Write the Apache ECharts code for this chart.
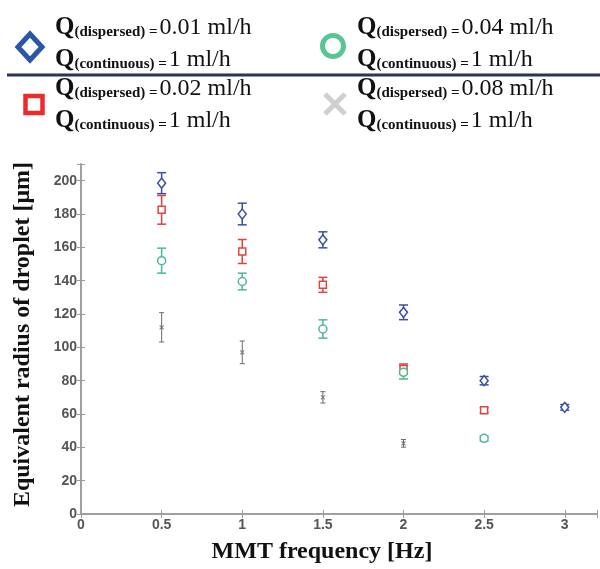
<!DOCTYPE html>
<html><head><meta charset="utf-8">
<script src="https://cdn.jsdelivr.net/npm/echarts@6/dist/echarts.min.js"></script>
<style>html,body{margin:0;padding:0;background:#fff}#c{width:600px;height:569px}</style>
</head><body><div id="c"></div>
<script>
// ---- data ----
const xTicks = [0, 0.5, 1, 1.5, 2, 2.5, 3];
const yTicks = [0, 20, 40, 60, 80, 100, 120, 140, 160, 180, 200];
const blueFreq = [0.5, 1, 1.5, 2, 2.5, 3];
const blueMean = [198.5, 180, 164.5, 121, 80, 64];
const blueErr  = [6.3, 6.5, 4.8, 4.4, 2.5, 1.7];
const redFreq = [0.5, 1, 1.5, 2, 2.5];
const redMean = [182.5, 157.5, 137.5, 87, 62.3];
const redErr  = [8.6, 7.2, 4.5, 3, 1.5];
const greenFreq = [0.5, 1, 1.5, 2, 2.5];
const greenMean = [152, 139.5, 111, 85, 45.4];
const greenErr  = [7.5, 5, 5.5, 4, 1.5];
const grayFreq = [0.5, 1, 1.5, 2];
const grayMean = [112, 97, 70, 42.4];
const grayErr  = [8.8, 6.8, 3.4, 2.3];
const legendRates = ['0.01', '0.04', '0.02', '0.08'];

// ---- style ----
const C = {blue:'#3b4fa3', red:'#e2433f', green:'#4fb98e', gray:'#6b6b6b'};
const L = {blue:'#2a56a8', red:'#ee2a2a', green:'#5bc494', gray:'#cfcfcf'};
const serif = '"Liberation Serif","Times New Roman",serif';
const axisCol = '#9a9a9a';

function pts(f, m){ return f.map((x,i)=>[x, m[i]]); }
function errs(f, m, e){ return f.map((x,i)=>[x, m[i]-e[i], m[i]+e[i]]); }
function errSeries(f, m, e, color, cap, lw){
  return {type:'custom', data: errs(f,m,e), z:2,
    renderItem: function(params, api){
      const x = api.value(0), lo = api.value(1), hi = api.value(2);
      const a = api.coord([x, hi]), b = api.coord([x, lo]);
      const st = {stroke: color, lineWidth: lw, fill:'none'};
      return {type:'group', children:[
        {type:'line', shape:{x1:a[0], y1:a[1], x2:b[0], y2:b[1]}, style: st},
        {type:'line', shape:{x1:a[0]-cap, y1:a[1], x2:a[0]+cap, y2:a[1]}, style: st},
        {type:'line', shape:{x1:b[0]-cap, y1:b[1], x2:b[0]+cap, y2:b[1]}, style: st}
      ]};
    }};
}
function markSeries(f, m, symbol, size, color, lw){
  return {type:'scatter', data: pts(f,m), symbol: symbol, symbolSize: size, z:3,
    itemStyle:{color:'#fff', borderColor: color, borderWidth: lw, opacity:1}};
}

function legendText(x, y, rate){
  return {type:'text', left: x, top: y, z:10,
    style:{
      text: '{q|Q}{s|(dispersed) =}{v|' + rate + ' ml/h}\n{q|Q}{s|(continuous) =}{v|1 ml/h}',
      rich:{
        q:{fontFamily: serif, fontWeight:'bold', fontSize:25, lineHeight:32, verticalAlign:'bottom', fill:'#111'},
        s:{fontFamily: serif, fontWeight:'bold', fontSize:15, lineHeight:14, verticalAlign:'bottom', fill:'#111'},
        v:{fontFamily: serif, fontSize:24, lineHeight:32, verticalAlign:'bottom', fill:'#111', padding:[0,0,0,2]}
      }
    }};
}

const chart = echarts.init(document.getElementById('c'), null, {renderer:'canvas'});
const axisLabelStyle = {color:'#555', fontWeight:'bold', fontSize:14, fontFamily:'"Liberation Sans",Arial,sans-serif'};

const option = {
  animation:false,
  backgroundColor:'#fff',
  grid:{left:81, right:2, top:164, bottom:53, containLabel:false},
  xAxis:[{
    type:'value', min:0, max:3.2, interval:0.5, position:'bottom',
    name:'MMT frequency [Hz]', nameLocation:'middle', nameGap:26,
    nameTextStyle:{fontFamily:serif, fontWeight:'bold', fontSize:24, color:'#111', padding:[0,34,0,0]},
    axisLine:{show:true, lineStyle:{color:axisCol, width:1.5}},
    axisTick:{show:true, inside:true, length:4, lineStyle:{color:axisCol}},
    splitLine:{show:false},
    axisLabel:Object.assign({margin:4, formatter: v => xTicks.indexOf(v) >= 0 ? String(v) : ''}, axisLabelStyle)
  },{
    type:'value', min:0, max:3.2, interval:0.5, position:'top',
    axisLine:{show:true, lineStyle:{color:axisCol, width:1.5}},
    axisTick:{show:true, inside:true, length:4, lineStyle:{color:axisCol}},
    splitLine:{show:false}, axisLabel:{show:false}
  }],
  yAxis:[{
    type:'value', min:0, max:210, interval:20, position:'left',
    name:'Equivalent radius of droplet [μm]', nameLocation:'middle', nameGap:46,
    nameTextStyle:{fontFamily:serif, fontWeight:'bold', fontSize:24, color:'#111', padding:[0,0,0,9]},
    axisLine:{show:true, lineStyle:{color:axisCol, width:1.5}},
    axisTick:{show:true, inside:true, length:4, lineStyle:{color:axisCol}},
    splitLine:{show:false},
    axisLabel:Object.assign({margin:4, formatter: v => yTicks.indexOf(v) >= 0 ? String(v) : ''}, axisLabelStyle)
  },{
    type:'value', min:0, max:210, interval:20, position:'right',
    axisLine:{show:true, lineStyle:{color:axisCol, width:1.5}},
    axisTick:{show:true, inside:true, length:4, lineStyle:{color:axisCol}},
    splitLine:{show:false}, axisLabel:{show:false}
  }],
  graphic:[
    // legend markers
    {type:'polygon', shape:{points:[[30,34],[42,47],[30,60],[18,47]]}, style:{fill:'none', stroke:L.blue, lineWidth:5}},
    {type:'circle', shape:{cx:333, cy:46, r:10.5}, style:{fill:'none', stroke:L.green, lineWidth:5}},
    {type:'rect', shape:{x:25.5, y:96, width:17, height:17}, style:{fill:'none', stroke:L.red, lineWidth:4.5}},
    {type:'group', children:[
      {type:'line', shape:{x1:325, y1:94, x2:345, y2:114}, style:{stroke:L.gray, lineWidth:5}},
      {type:'line', shape:{x1:345, y1:94, x2:325, y2:114}, style:{stroke:L.gray, lineWidth:5}}
    ]},
    {type:'line', shape:{x1:7, y1:75, x2:600, y2:75}, style:{stroke:'#2d3160', lineWidth:3}},
    legendText(55, 15, legendRates[0]),
    legendText(357, 15, legendRates[1]),
    legendText(55, 76, legendRates[2]),
    legendText(357, 76, legendRates[3])
  ],
  series:[
    errSeries(blueFreq, blueMean, blueErr, C.blue, 4.5, 1.5),
    errSeries(redFreq, redMean, redErr, C.red, 4.5, 1.5),
    errSeries(greenFreq, greenMean, greenErr, C.green, 4.5, 1.5),
    errSeries(grayFreq, grayMean, grayErr, C.gray, 2.5, 1),
    markSeries(blueFreq, blueMean, 'diamond', [8,10], C.blue, 1.5),
    markSeries(redFreq, redMean, 'rect', 7, C.red, 1.5),
    markSeries(greenFreq, greenMean, 'circle', 8, C.green, 1.5),
    {type:'scatter', data: pts(grayFreq, grayMean), symbol:'path://M0,0L10,10M10,0L0,10', symbolSize:4, z:3,
      itemStyle:{color:'none', borderColor:C.gray, borderWidth:1.2}}
  ]
};
chart.setOption(option);
</script>
</body></html>
